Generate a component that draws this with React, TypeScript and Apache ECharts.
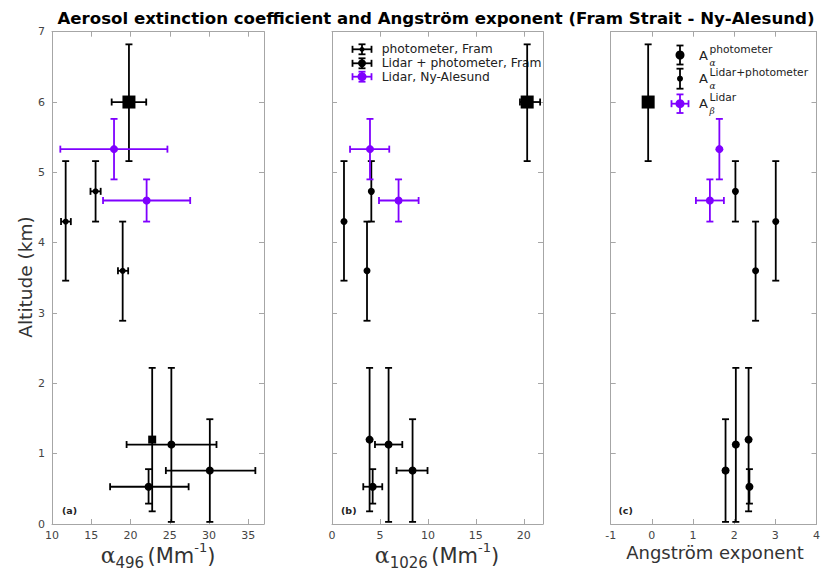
import React, { useEffect, useRef } from 'react';
import * as echarts from 'echarts';

// ---------- data ----------
// Fram Strait points (photometer / lidar+photometer)
const altFram = [6.0, 4.73, 4.30, 3.60, 1.20, 1.13, 0.76, 0.53];
const altFramTop = [6.82, 5.16, 5.16, 4.30, 2.22, 2.22, 1.49, 0.78];
const altFramBottom = [5.16, 4.30, 3.46, 2.89, 0.18, 0.03, 0.03, 0.29];
// Ny-Alesund lidar points
const altNy = [5.33, 4.60];
const altNyTop = [5.76, 4.90];
const altNyBottom = [4.90, 4.30];

// panel (a) alpha 496
const a496Fram = [19.8, 15.55, 11.74, 19.0, 22.76, 25.2, 30.1, 22.3];
const a496FramLo = [17.6, 14.9, 11.15, 18.4, null, 19.5, 24.5, 17.4];
const a496FramHi = [22.0, 16.2, 12.4, 19.7, null, 30.95, 35.9, 27.4];
const a496Ny = [17.9, 22.05];
const a496NyLo = [11.06, 16.5];
const a496NyHi = [24.7, 27.6];

// panel (b) alpha 1026
const a1026Fram = [20.35, 4.1, 1.25, 3.65, 3.92, 5.9, 8.4, 4.24];
const a1026FramLo = [19.6, null, null, null, null, 4.48, 6.73, 3.26];
const a1026FramHi = [21.7, null, null, null, null, 7.33, 9.96, 5.24];
const a1026Ny = [3.96, 6.94];
const a1026NyLo = [1.88, 4.9];
const a1026NyHi = [5.97, 9.03];

// panel (c) Angstrom exponent
const angFram = [-0.09, 2.03, 3.01, 2.52, 2.35, 2.04, 1.79, 2.37];
const angFramLo = [null, null, null, null, null, null, null, null];
const angFramHi = [null, null, null, null, null, null, null, null];
const angNy = [1.64, 1.41];
const angNyLo = [null, 1.07];
const angNyHi = [null, 1.75];

// axes
const xRanges = [
  { min: 10, max: 37, interval: 5 },
  { min: 0, max: 22, interval: 5 },
  { min: -1, max: 4, interval: 1 },
];
const yRange = { min: 0, max: 7, interval: 1 };

const panelTags = ['(a)', '(b)', '(c)'];
const legendB = ['photometer, Fram', 'Lidar + photometer, Fram', 'Lidar, Ny-Alesund'];
const titleText = 'Aerosol extinction coefficient and Angström exponent (Fram Strait - Ny-Alesund)';

// ---------- styling ----------
const BLACK = '#000000';
const PURPLE = '#7f00ff';
const AXIS = '#a6a6a6';
const FONT = 'DejaVu Sans';

const grids = [
  { left: 52, top: 31.7, width: 212, height: 492.3 },
  { left: 332, top: 31.7, width: 211, height: 492.3 },
  { left: 610.7, top: 31.7, width: 211.3, height: 492.3 },
];

function buildErr(x: number[], lo: (number | null)[], hi: (number | null)[], y: number[], ylo: number[], yhi: number[]) {
  return x.map((v, i) => [v, y[i], lo[i] ?? v, hi[i] ?? v, ylo[i], yhi[i]]);
}

function errorRender(color: string) {
  return (_params: any, api: any) => {
    const x = api.value(0);
    const y = api.value(1);
    const xlo = api.value(2);
    const xhi = api.value(3);
    const ylo = api.value(4);
    const yhi = api.value(5);
    const style = { stroke: color, lineWidth: 1.8 };
    const cap = 3.5;
    const children: any[] = [];
    const ln = (x1: number, y1: number, x2: number, y2: number) =>
      children.push({ type: 'line', shape: { x1, y1, x2, y2 }, style });
    if (yhi !== ylo) {
      const p1 = api.coord([x, ylo]);
      const p2 = api.coord([x, yhi]);
      ln(p1[0], p1[1], p2[0], p2[1]);
      ln(p1[0] - cap, p1[1], p1[0] + cap, p1[1]);
      ln(p2[0] - cap, p2[1], p2[0] + cap, p2[1]);
    }
    if (xhi !== xlo) {
      const p1 = api.coord([xlo, y]);
      const p2 = api.coord([xhi, y]);
      ln(p1[0], p1[1], p2[0], p2[1]);
      ln(p1[0], p1[1] - cap, p1[0], p1[1] + cap);
      ln(p2[0], p2[1] - cap, p2[0], p2[1] + cap);
    }
    return { type: 'group', children };
  };
}

function framMarkers(panel: number, x: number[], y: number[]) {
  return x.map((v, i) => {
    let symbol = 'circle';
    let size = 8;
    if (i === 0) { symbol = 'rect'; size = 13; }
    else if (panel === 0 && i >= 1 && i <= 3) { size = 6; }
    else if (panel === 0 && i === 4) { symbol = 'rect'; size = 8; }
    else if (i >= 1 && i <= 3) { size = 7; }
    return { value: [v, y[i]], symbol, symbolSize: size };
  });
}

export default function App() {
  const ref = useRef<HTMLDivElement>(null);
  useEffect(() => {
    if (!ref.current) return;
    const chart = echarts.init(ref.current, undefined, { renderer: 'svg' });

    const panels = [
      { fx: a496Fram, flo: a496FramLo, fhi: a496FramHi, nx: a496Ny, nlo: a496NyLo, nhi: a496NyHi },
      { fx: a1026Fram, flo: a1026FramLo, fhi: a1026FramHi, nx: a1026Ny, nlo: a1026NyLo, nhi: a1026NyHi },
      { fx: angFram, flo: angFramLo, fhi: angFramHi, nx: angNy, nlo: angNyLo, nhi: angNyHi },
    ];

    const axisLine = { show: true, onZero: false, lineStyle: { color: AXIS, width: 1 } };
    const axisTick = { show: true, inside: true, length: 5, lineStyle: { color: AXIS, width: 1 } };
    const labelStyle = { color: '#444', fontSize: 11, fontFamily: FONT };

    const xAxis: any[] = [];
    const yAxis: any[] = [];
    grids.forEach((_, i) => {
      const r = xRanges[i];
      xAxis.push({
        type: 'value', gridIndex: i, position: 'bottom', min: r.min, max: r.max, interval: r.interval,
        axisLine, axisTick, splitLine: { show: false },
        axisLabel: { ...labelStyle, margin: 6, showMaxLabel: i === 2, showMinLabel: true },
      });
      xAxis.push({
        type: 'value', gridIndex: i, position: 'top', min: r.min, max: r.max, interval: r.interval,
        axisLine, axisTick, splitLine: { show: false }, axisLabel: { show: false },
      });
      yAxis.push({
        type: 'value', gridIndex: i, position: 'left', ...yRange,
        axisLine, axisTick, splitLine: { show: false },
        axisLabel: { ...labelStyle, show: i === 0, margin: 7 },
      });
      yAxis.push({
        type: 'value', gridIndex: i, position: 'right', ...yRange,
        axisLine, axisTick, splitLine: { show: false }, axisLabel: { show: false },
      });
    });

    const series: any[] = [];
    panels.forEach((p, i) => {
      const ax = { xAxisIndex: 2 * i, yAxisIndex: 2 * i };
      series.push({
        type: 'custom', ...ax, name: 'errFram' + i, z: 2,
        renderItem: errorRender(BLACK),
        encode: { x: 0, y: 1 },
        data: buildErr(p.fx, p.flo, p.fhi, altFram, altFramBottom, altFramTop),
      });
      series.push({
        type: 'custom', ...ax, name: 'errNy' + i, z: 2,
        renderItem: errorRender(PURPLE),
        encode: { x: 0, y: 1 },
        data: buildErr(p.nx, p.nlo, p.nhi, altNy, altNyBottom, altNyTop),
      });
      series.push({
        type: 'scatter', ...ax, name: 'Fram' + i, z: 3,
        itemStyle: { color: BLACK, opacity: 1 },
        data: framMarkers(i, p.fx, altFram),
      });
      series.push({
        type: 'scatter', ...ax, name: 'Ny' + i, z: 3, symbolSize: 8,
        itemStyle: { color: PURPLE, opacity: 1 },
        data: p.nx.map((v, k) => [v, altNy[k]]),
      });
    });

    // ---- legend / annotation graphics ----
    const g: any[] = [];
    const gl = (x1: number, y1: number, x2: number, y2: number, color: string) =>
      g.push({ type: 'line', shape: { x1, y1, x2, y2 }, style: { stroke: color, lineWidth: 1.8 }, z: 10 });
    const icon = (cx: number, cy: number, color: string, r: number, hw: number, vh: number) => {
      if (hw > 0) {
        gl(cx - hw, cy, cx + hw, cy, color);
        gl(cx - hw, cy - 3.5, cx - hw, cy + 3.5, color);
        gl(cx + hw, cy - 3.5, cx + hw, cy + 3.5, color);
      }
      if (vh > 0) {
        gl(cx, cy - vh, cx, cy + vh, color);
        gl(cx - 3.5, cy - vh, cx + 3.5, cy - vh, color);
        gl(cx - 3.5, cy + vh, cx + 3.5, cy + vh, color);
      }
      g.push({ type: 'circle', shape: { cx, cy, r }, style: { fill: color }, z: 11 });
    };

    // panel (b) legend
    const bRows = [49.3, 63.3, 76.7];
    icon(362, bRows[0], BLACK, 2.5, 9.5, 5);
    icon(362, bRows[1], BLACK, 4, 9.5, 5);
    icon(362, bRows[2], PURPLE, 4.5, 9.5, 5);
    legendB.forEach((t, k) => {
      g.push({
        type: 'text', x: 381.7, y: bRows[k],
        style: { text: t, fill: '#222', fontSize: 12.3, fontFamily: FONT, align: 'left', verticalAlign: 'middle' },
      });
    });

    // panel (c) legend
    icon(680, 55, BLACK, 4.5, 0, 9.5);
    icon(680, 78.7, BLACK, 3, 0, 10);
    icon(680, 103.7, PURPLE, 4.5, 8.5, 9.3);
    const cRows = [
      { y: 55, sup: 'photometer', sub: 'α' },
      { y: 78.7, sup: 'Lidar+photometer', sub: 'α' },
      { y: 103.5, sup: 'Lidar', sub: 'β' },
    ];
    cRows.forEach((r) => {
      g.push({ type: 'text', x: 699, y: r.y, style: { text: 'A', fill: '#222', fontSize: 13, fontFamily: FONT, align: 'left', verticalAlign: 'middle' } });
      g.push({ type: 'text', x: 709.5, y: r.y - 6, style: { text: r.sup, fill: '#222', fontSize: 10.7, fontFamily: FONT, align: 'left', verticalAlign: 'middle' } });
      g.push({ type: 'text', x: 709.5, y: r.y + 7.5, style: { text: r.sub, fill: '#222', fontSize: 9, fontFamily: 'DejaVu Serif', fontStyle: 'italic', align: 'left', verticalAlign: 'middle' } });
    });

    // panel tags
    const tagX = [62, 341, 618.5];
    panelTags.forEach((t, k) => {
      g.push({ type: 'text', x: tagX[k], y: 510, style: { text: t, fill: '#222', fontSize: 9.5, fontWeight: 'bold', fontFamily: FONT, align: 'left', verticalAlign: 'middle' } });
    });

    // title
    g.push({ type: 'text', x: 436, y: 18, style: { text: titleText, fill: '#000', fontSize: 16.6, fontWeight: 'bold', fontFamily: FONT, align: 'center', verticalAlign: 'middle' } });

    // y axis name
    g.push({ type: 'text', x: 25, y: 277, rotation: Math.PI / 2, style: { text: 'Altitude (km)', fill: '#333', fontSize: 18.5, fontFamily: FONT, align: 'center', verticalAlign: 'middle' } });

    // x axis names
    const rich = {
      a: { fontSize: 22, fontFamily: 'DejaVu Serif', lineHeight: 22, verticalAlign: 'middle', fill: '#333' },
      s: { fontSize: 15, fontFamily: FONT, lineHeight: 15, verticalAlign: 'bottom', fill: '#333' },
      m: { fontSize: 21, fontFamily: FONT, lineHeight: 30, verticalAlign: 'middle', fill: '#333' },
      p: { fontSize: 13, fontFamily: FONT, lineHeight: 13, verticalAlign: 'top', fill: '#333' },
    };
    g.push({ type: 'text', x: 158, y: 555.5, style: { text: '{a|α}{s|496} {m|(Mm}{p|-1}{m|)}', rich, align: 'center', verticalAlign: 'middle' } });
    g.push({ type: 'text', x: 437, y: 555.5, style: { text: '{a|α}{s|1026} {m|(Mm}{p|-1}{m|)}', rich, align: 'center', verticalAlign: 'middle' } });
    g.push({ type: 'text', x: 715, y: 552, style: { text: 'Angström exponent', fill: '#333', fontSize: 18, fontFamily: FONT, align: 'center', verticalAlign: 'middle' } });

    chart.setOption({
      animation: false,
      backgroundColor: '#ffffff',
      grid: grids,
      xAxis,
      yAxis,
      series,
      graphic: g,
    });
    return () => chart.dispose();
  }, []);
  return <div ref={ref} style={{ position: 'fixed', left: 0, top: 0, width: 823, height: 572 }} />;
}
